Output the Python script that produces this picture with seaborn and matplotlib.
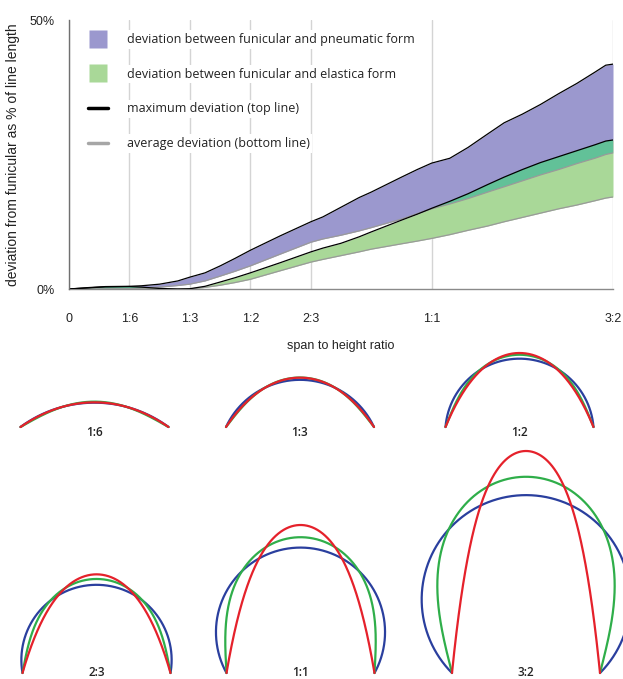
# Deviation of pneumatic / elastica forms from the funicular, plus arch sketches.
import numpy as np
import pandas as pd
import matplotlib
matplotlib.use("Agg")
import matplotlib.pyplot as plt
from matplotlib.lines import Line2D
import seaborn as sns


# --- Data ---------------------------------------------------------------------
ratio = [0, 0.05, 0.10, 0.167, 0.20, 0.25, 0.30, 0.333, 0.375, 0.417, 0.458,
         0.50, 0.583, 0.667, 0.70, 0.75, 0.80, 0.833, 0.917, 0.96, 1.0, 1.05,
         1.10, 1.154, 1.20, 1.25, 1.30, 1.35, 1.40, 1.45, 1.48, 1.50]

# funicular vs pneumatic: maximum (top line) and average (bottom line)
pneu_max = [0.0, 0.25, 0.45, 0.5, 0.6, 0.9, 1.5, 2.2, 3.0, 4.3, 5.7,
            7.2, 9.9, 12.5, 13.4, 15.2, 17.0, 18.0, 20.8, 22.2, 23.4, 24.3,
            26.3, 28.8, 30.9, 32.5, 34.3, 36.3, 38.2, 40.3, 41.6, 41.8]
pneu_avg = [0.0, 0.0, 0.0, 0.05, 0.15, 0.35, 0.65, 0.9, 1.5, 2.4, 3.3,
            4.3, 6.5, 8.7, 9.3, 10.0, 10.8, 11.4, 13.0, 14.0, 14.9, 15.8,
            16.8, 18.0, 19.0, 20.1, 21.2, 22.2, 23.3, 24.3, 25.0, 25.3]

# funicular vs elastica: maximum (top line) and average (bottom line)
elas_max = [0.0, 0.2, 0.4, 0.45, 0.35, 0.1, 0.0, 0.05, 0.5, 1.3, 2.1,
            3.0, 4.9, 6.9, 7.6, 8.5, 9.7, 10.6, 12.8, 13.9, 15.0, 16.3,
            17.7, 19.4, 20.8, 22.2, 23.5, 24.6, 25.7, 26.8, 27.5, 27.7]
elas_avg = [0.0, 0.0, 0.0, 0.0, 0.0, 0.0, 0.0, 0.0, 0.3, 0.7, 1.2,
            1.8, 3.4, 5.0, 5.5, 6.2, 6.9, 7.4, 8.4, 8.9, 9.4, 10.1,
            10.9, 11.7, 12.5, 13.3, 14.1, 14.9, 15.6, 16.4, 16.9, 17.1]

tick_values = [0, 1 / 6, 1 / 3, 1 / 2, 2 / 3, 1, 3 / 2]
tick_labels = ["0", "1:6", "1:3", "1:2", "2:3", "1:1", "3:2"]

# arch sketches: funicular height / span
arch_ratios = [1 / 6, 1 / 3, 1 / 2, 2 / 3, 1, 3 / 2]
arch_labels = ["1:6", "1:3", "1:2", "2:3", "1:1", "3:2"]

# --- Style ---------------------------------------------------------------------
W, H = 623, 679
PURPLE = "#9b98ce"
GREEN = "#a9d898"
TEAL = "#62c198"
GREY_LINE = "#9a9a9a"
ARIAL = "Liberation Sans"
SEGOE = "Open Sans"

sns.set_style("white")
plt.rcParams["font.family"] = [ARIAL, "DejaVu Sans"]

fig = plt.figure(figsize=(W / 100, H / 100), dpi=100)


def px_axes(x0, y0, x1, y1):
    """Axes from pixel box (top-left origin)."""
    return fig.add_axes([x0 / W, 1 - y1 / H, (x1 - x0) / W, (y1 - y0) / H])


# --- Main chart ----------------------------------------------------------------
ax = px_axes(69, 20, 613, 289)

r = np.array(ratio)
pm, pa = np.array(pneu_max), np.array(pneu_avg)
em, ea = np.array(elas_max), np.array(elas_avg)

ax.fill_between(r, pa, pm, color=PURPLE, lw=0, zorder=2)
ax.fill_between(r, ea, em, color=GREEN, lw=0, zorder=2)
ax.fill_between(r, pa, em, where=em > pa, interpolate=True, color=TEAL,
                lw=0, zorder=3)

lines = pd.DataFrame({
    "ratio": np.tile(r, 4),
    "value": np.concatenate([pa, ea, pm, em]),
    "series": np.repeat(["pa", "ea", "pm", "em"], len(r)),
})
sns.lineplot(data=lines, x="ratio", y="value", hue="series", units="series",
             estimator=None, sort=False, legend=False, ax=ax, zorder=4,
             palette={"pa": GREY_LINE, "ea": GREY_LINE, "pm": "black", "em": "black"},
             linewidth=0.9)

ax.set_xlim(0, 1.5)
ax.set_ylim(0, 50)
ax.set_xticks(tick_values)
ax.set_xticklabels(tick_labels)
ax.set_yticks([0, 50])
ax.set_yticklabels(["0%", "50%"])
ax.tick_params(axis="x", length=0, pad=17, labelsize=9, colors="#222222")
ax.tick_params(axis="y", length=0, pad=10, labelsize=9, colors="#222222")
ax.xaxis.grid(True, color="#d4d4d4", lw=1.0, zorder=0)
ax.yaxis.grid(False)
ax.set_axisbelow(True)
for side in ("top", "right"):
    ax.spines[side].set_visible(False)
ax.spines["left"].set_color("#707070")
ax.spines["bottom"].set_color("#8a8a8a")
ax.spines["left"].set_linewidth(1.0)
ax.spines["bottom"].set_linewidth(1.0)
ax.spines["left"].set_zorder(5)
ax.set_xlabel("span to height ratio", fontsize=9, labelpad=11, color="#222222")
ax.set_ylabel("deviation from funicular as % of line length", fontsize=10,
              labelpad=7, color="#222222")

handles = [
    Line2D([], [], ls="none", marker="s", ms=13, mfc=PURPLE, mec="none"),
    Line2D([], [], ls="none", marker="s", ms=13, mfc=GREEN, mec="none"),
    Line2D([], [], color="black", lw=2.5),
    Line2D([], [], color="#a6a6a6", lw=2.5),
]
names = ["deviation between funicular and pneumatic form",
         "deviation between funicular and elastica form",
         "maximum deviation (top line)",
         "average deviation (bottom line)"]
leg = ax.legend(handles, names, loc="upper left", bbox_to_anchor=(0.035, 0.952),
                frameon=False, borderpad=0, borderaxespad=0, handlelength=1.6,
                handletextpad=1.5, labelspacing=1.74,
                prop={"family": SEGOE, "size": 9.0})
for t in leg.get_texts():
    t.set_color("#222222")
    t.set_bbox(dict(facecolor="white", edgecolor="none", pad=2))


# --- Arch shapes -----------------------------------------------------------------
def catenary(h):
    lo, hi = 0.01, 100.0
    for _ in range(80):
        a = np.sqrt(lo * hi)
        if a * (np.cosh(0.5 / a) - 1) > h:
            lo = a
        else:
            hi = a
    x = np.linspace(-0.5, 0.5, 400)
    y = h - a * (np.cosh(x / a) - 1)
    return x, y, 2 * a * np.sinh(0.5 / a)


def circle_arc(length):
    lo, hi = 1e-6, np.pi - 1e-9
    for _ in range(80):
        t = 0.5 * (lo + hi)
        if np.sin(t) / t > 1 / length:
            lo = t
        else:
            hi = t
    rad = 0.5 / np.sin(t)
    p = np.linspace(-t, t, 400)
    return rad * np.sin(p), rad * np.cos(p) - rad * np.cos(t)


def elastica(length):
    phi = np.linspace(np.pi / 2, -np.pi / 2, 2001)
    dphi = np.abs(np.diff(phi))

    def shape(k):
        ks = k * np.sin(phi)
        th = 2 * np.arcsin(ks)
        w = 1 / np.sqrt(1 - ks ** 2)
        ds = 0.5 * (w[1:] + w[:-1]) * dphi
        cx = np.concatenate([[0], np.cumsum(0.5 * (np.cos(th[1:]) + np.cos(th[:-1])) * ds)])
        cy = np.concatenate([[0], np.cumsum(0.5 * (np.sin(th[1:]) + np.sin(th[:-1])) * ds)])
        return cx, cy, ds.sum()

    lo, hi = 0.0, 0.9995
    for _ in range(60):
        k = 0.5 * (lo + hi)
        cx, cy, s = shape(k)
        if cx[-1] / s > 1 / length:
            lo = k
        else:
            hi = k
    sc = 1 / cx[-1]
    return cx * sc - 0.5, cy * sc


SPAN = 148.0
# pixel centre and base of each sketch
arch_places = [(94.5, 427), (300, 427), (519.5, 427),
               (96.5, 673), (300.5, 673), (526, 673)]
label_dy = [6, 6, 6, 0, 0, 0]

for ratio_h, lab, (cx, by), dy in zip(arch_ratios, arch_labels, arch_places, label_dy):
    sub = px_axes(cx - 110, by - 235, cx + 110, by + 6)
    sub.set_xlim(-110 / SPAN, 110 / SPAN)
    sub.set_ylim(-6 / SPAN, 235 / SPAN)
    sub.axis("off")
    fx, fy, flen = catenary(ratio_h)
    bx, byy = circle_arc(flen)
    gx, gy = elastica(flen)
    sub.plot(bx, byy, color="#2a3f9e", lw=1.6, solid_capstyle="round", clip_on=False)
    sub.plot(gx, gy, color="#2fae4a", lw=1.6, solid_capstyle="round", clip_on=False)
    sub.plot(fx, fy, color="#e5212b", lw=1.6, solid_capstyle="round", clip_on=False)
    sub.text(0, -dy / SPAN, lab, ha="center", va="center", fontsize=8.5,
             family=SEGOE, fontweight="semibold", color="#222222")

fig.savefig("out.png", dpi=100)
